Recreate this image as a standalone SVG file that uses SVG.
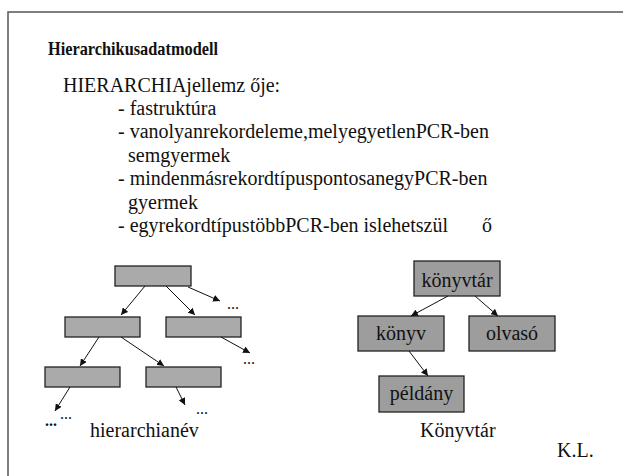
<svg xmlns="http://www.w3.org/2000/svg" width="623" height="476" viewBox="0 0 623 476">
  <style>
    text { font-family: 'Liberation Serif', Tinos, 'Times New Roman', Times, serif; fill: #111; }
    .title { font-size: 19px; font-weight: bold; }
    .body { font-size: 20px; }
    .dots { font-size: 16px; }
    .bdots { font-size: 16px; font-weight: bold; }
    .box { fill: #aaaaaa; stroke: #222; stroke-width: 1.3; }
    .box2 { fill: #9d9d9d; stroke: #222; stroke-width: 1.3; }
    .lbl { font-size: 20px; text-anchor: middle; }
    .edge { stroke: #111; stroke-width: 1; fill: none; marker-end: url(#arrow); }
  </style>
  <defs>
    <marker id="arrow" viewBox="0 0 10 10" refX="10" refY="5" markerWidth="7" markerHeight="7" markerUnits="userSpaceOnUse" orient="auto">
      <path d="M0,0 L10,5 L0,10 z" fill="#111"/>
    </marker>
  </defs>

  <!-- slide frame -->
  <path d="M8,476 V12 H623" fill="none" stroke="#555" stroke-width="1.5"/>

  <!-- heading and bullet text -->
  <g id="heading">
    <text class="title" x="48" y="55" textLength="170" lengthAdjust="spacingAndGlyphs">Hierarchikusadatmodell</text>
    <text class="body" x="63" y="92">HIERARCHIAjellemz ője:</text>
    <text class="body" x="118" y="115">- fastruktúra</text>
    <text class="body" x="118" y="138">- vanolyanrekordeleme,melyegyetlenPCR-ben</text>
    <text class="body" x="128" y="162">semgyermek</text>
    <text class="body" x="118" y="185">- mindenmásrekordtípuspontosanegyPCR-ben</text>
    <text class="body" x="128" y="209">gyermek</text>
    <text class="body" x="118" y="232">- egyrekordtípustöbbPCR-ben islehetszül</text>
    <text class="body" x="482" y="232">ő</text>
  </g>

  <!-- generic hierarchy -->
  <g id="h-root"><rect class="box" x="115" y="266" width="76" height="20"/></g>
  <g id="h-left"><rect class="box" x="65" y="317" width="75" height="20"/></g>
  <g id="h-right"><rect class="box" x="166" y="317" width="75" height="20"/></g>
  <g id="h-left-left"><rect class="box" x="45" y="367" width="75" height="20"/></g>
  <g id="h-left-right"><rect class="box" x="146" y="367" width="75" height="20"/></g>

  <g id="h-more">
    <text class="dots" x="227" y="309">...</text>
    <text class="dots" x="243" y="364">...</text>
    <text class="dots" x="196" y="414">...</text>
    <text class="dots" x="60" y="419">...</text>
    <text class="bdots" x="45" y="426">...</text>
  </g>
  <g id="h-caption"><text class="body" x="90" y="437">hierarchianév</text></g>

  <!-- library example -->
  <g id="konyvtar">
    <rect class="box2" x="414" y="261" width="86" height="35"/>
    <text class="lbl" x="457" y="287">könyvtár</text>
  </g>
  <g id="konyv">
    <rect class="box2" x="358" y="316" width="86" height="35"/>
    <text class="lbl" x="401" y="340">könyv</text>
  </g>
  <g id="olvaso">
    <rect class="box2" x="469" y="316" width="86" height="35"/>
    <text class="lbl" x="512" y="340">olvasó</text>
  </g>
  <g id="peldany">
    <rect class="box2" x="379" y="376" width="85" height="36"/>
    <text class="lbl" x="421.5" y="400">példány</text>
  </g>
  <g id="k-caption"><text class="body" x="420" y="437">Könyvtár</text></g>
  <g id="author"><text class="body" x="557" y="457">K.L.</text></g>

  <!-- connectors -->
  <g id="connectors">
    <line class="edge" x1="145" y1="286" x2="121" y2="315"/>
    <line class="edge" x1="166" y1="286" x2="195" y2="315"/>
    <line class="edge" x1="188" y1="287" x2="220" y2="301"/>
    <line class="edge" x1="99" y1="337" x2="80" y2="366"/>
    <line class="edge" x1="121" y1="337" x2="164" y2="366"/>
    <line class="edge" x1="221" y1="337" x2="250" y2="353"/>
    <line class="edge" x1="70" y1="387" x2="55" y2="411"/>
    <line class="edge" x1="176" y1="387" x2="185" y2="405"/>
    <line class="edge" x1="448" y1="296" x2="411" y2="316"/>
    <line class="edge" x1="475" y1="296" x2="498" y2="316"/>
    <line class="edge" x1="409" y1="351" x2="428" y2="376"/>
  </g>
</svg>
